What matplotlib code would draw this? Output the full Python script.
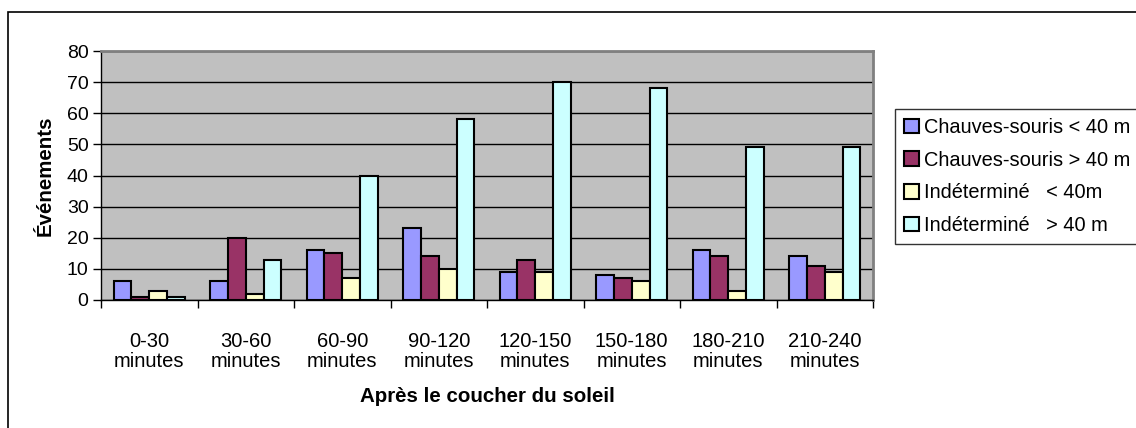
import numpy as np
import matplotlib.pyplot as plt
from matplotlib.patches import Rectangle, Patch

plt.rcParams['font.family'] = ['Liberation Sans', 'DejaVu Sans']

categories = ["0-30\nminutes", "30-60\nminutes", "60-90\nminutes", "90-120\nminutes",
              "120-150\nminutes", "150-180\nminutes", "180-210\nminutes", "210-240\nminutes"]
series_names = ["Chauves-souris < 40 m", "Chauves-souris > 40 m",
                "Indéterminé   < 40m", "Indéterminé   > 40 m"]
bats_low = [6, 6, 16, 23, 9, 8, 16, 14]
bats_high = [1, 20, 15, 14, 13, 7, 14, 11]
unknown_low = [3, 2, 7, 10, 9, 6, 3, 9]
unknown_high = [1, 13, 40, 58, 70, 68, 49, 49]
colors = ["#9999FF", "#993366", "#FFFFCC", "#CCFFFF"]

W, H = 1136, 428
fig = plt.figure(figsize=(W / 100, H / 100), dpi=100)
ax = fig.add_axes([101 / W, 1 - 300 / H, 772 / W, 249 / H])
ax.set_facecolor("#C0C0C0")

x = np.arange(len(categories))
width = 0.185
series = [bats_low, bats_high, unknown_low, unknown_high]
for i, (vals, col) in enumerate(zip(series, colors)):
    ax.bar(x + (i - 1.5) * width, vals, width, color=col, edgecolor="black",
           linewidth=1.5, zorder=3)

ax.set_xlim(-0.5, len(categories) - 0.5)
ax.set_ylim(0, 80)
ax.set_yticks(range(0, 81, 10))
ax.tick_params(axis="y", labelsize=14, length=6, width=1, colors="black", pad=3)
ax.yaxis.grid(True, color="black", linewidth=1, zorder=1)
ax.set_axisbelow(True)

ax.set_xticks(x)
ax.set_xticklabels(categories, fontsize=14.5, linespacing=1.05)
ax.tick_params(axis="x", length=0, pad=23)
ax.set_xticks(np.arange(-0.5, len(categories)), minor=True)
ax.tick_params(axis="x", which="minor", length=6, width=1)

for side in ("top", "right"):
    ax.spines[side].set_color("#808080")
    ax.spines[side].set_linewidth(2)
for side in ("left", "bottom"):
    ax.spines[side].set_color("black")
    ax.spines[side].set_linewidth(1)

ax.set_ylabel("Événements", fontsize=14.8, fontweight="bold", labelpad=9)
ax.set_xlabel("Après le coucher du soleil", fontsize=14.8, fontweight="bold", labelpad=12)

handles = [Patch(facecolor=c, edgecolor="black", linewidth=1.5) for c in colors]
leg = fig.legend(handles, series_names, loc="upper left",
                 bbox_to_anchor=(895 / W, 1 - 109 / H), fontsize=14.4,
                 frameon=True, fancybox=False, edgecolor="black",
                 handlelength=0.75, handleheight=0.75, handletextpad=0.25,
                 labelspacing=0.68, borderpad=0.45, borderaxespad=0)
leg.get_frame().set_linewidth(1)

fig.patches.append(Rectangle((8 / W, -0.1), 1.2, 1.1 - 12 / H, transform=fig.transFigure,
                             fill=False, edgecolor="black", linewidth=1.2))

fig.savefig("out.png", dpi=100)
